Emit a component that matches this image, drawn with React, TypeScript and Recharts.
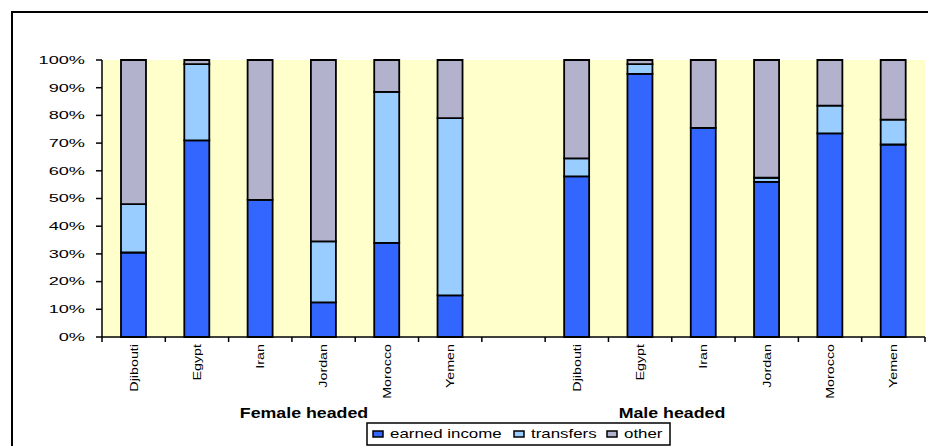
import { BarChart, Bar, XAxis, YAxis, CartesianGrid } from 'recharts';

// categories: six female-headed, a blank gap, six male-headed
const CATEGORIES = ['Djibouti', 'Egypt', 'Iran', 'Jordan', 'Morocco', 'Yemen', '', 'Djibouti', 'Egypt', 'Iran', 'Jordan', 'Morocco', 'Yemen'];
const EARNED = [30.5, 71, 49.5, 12.5, 34, 15, null, 58, 95, 75.5, 56, 73.5, 69.5];
const TRANSFERS = [17.5, 27.5, 0, 22, 54.5, 64, null, 6.5, 3.5, 0, 1.5, 10, 9];
const OTHER = [52, 1.5, 50.5, 65.5, 11.5, 21, null, 35.5, 1.5, 24.5, 42.5, 16.5, 21.5];
const Y_TICKS = [0, 10, 20, 30, 40, 50, 60, 70, 80, 90, 100];
const GROUPS = ['Female headed', 'Male headed'];

const SERIES = [
  { key: 'earned', name: 'earned income', color: '#3366FF' },
  { key: 'transfers', name: 'transfers', color: '#99CCFF' },
  { key: 'other', name: 'other', color: '#B2B2CC' },
];

const W = 928;
const H = 446;
const Y_AXIS_W = 102;
const RIGHT = 3;
const BAND = (W - Y_AXIS_W - RIGHT) / CATEGORIES.length;
const FONT = '"Liberation Sans", Arial, sans-serif';

const data = CATEGORIES.map((c, i) => ({
  key: `${i < 6 ? 'F' : 'M'}-${c || 'gap'}`,
  earned: EARNED[i],
  transfers: TRANSFERS[i],
  other: OTHER[i],
}));

const YTick = ({ x, y, payload }: any) => (
  <g transform={`translate(${x},${y}) scale(1.65,1)`}>
    <text textAnchor='end' dy='0.35em' fontSize={11} fontFamily={FONT} fill='#000'>
      {`${payload.value}%`}
    </text>
  </g>
);

const XTick = ({ x, y, index }: any) => {
  const left = x - BAND / 2;
  const last = index === CATEGORIES.length - 1;
  return (
    <g>
      <line x1={left} x2={left} y1={y - 7} y2={y - 2} stroke='#000' strokeWidth={1.5} />
      {last && <line x1={left + BAND} x2={left + BAND} y1={y - 7} y2={y - 2} stroke='#000' strokeWidth={1.5} />}
      <g transform={`translate(${x},${y}) rotate(-90) scale(1.3,1)`}>
        <text textAnchor='end' dy='0.35em' fontSize={11} fontFamily={FONT} fill='#000'>
          {CATEGORIES[index]}
        </text>
      </g>
    </g>
  );
};

export default function App() {
  const legendX = [373, 514, 607];
  return (
    <div style={{ position: 'absolute', left: 0, top: 0, width: W, height: H, overflow: 'hidden', background: '#fff' }}>
      <div style={{ position: 'absolute', left: 11, top: 11, width: 960, height: 480, border: '2px solid #000' }} />
      <div style={{ position: 'absolute', left: 0, top: 0 }}>
        <BarChart
          width={W}
          height={H}
          data={data}
          margin={{ top: 60, right: RIGHT, bottom: 0, left: 0 }}
          barCategoryGap='30%'
        >
          <CartesianGrid horizontal={false} vertical={false} fill='#FFFFCC' fillOpacity={1} />
          <XAxis
            dataKey='key'
            height={109}
            interval={0}
            tickLine={false}
            tickSize={5}
            tickMargin={2}
            axisLine={{ stroke: '#000', strokeWidth: 1.5 }}
            tick={<XTick />}
          />
          <XAxis
            xAxisId='top'
            orientation='top'
            dataKey='key'
            height={0}
            tick={false}
            tickLine={false}
            axisLine={{ stroke: '#808080', strokeWidth: 1.5 }}
          />
          <YAxis
            width={Y_AXIS_W}
            domain={[0, 100]}
            ticks={Y_TICKS}
            interval={0}
            tickSize={6}
            tickMargin={11}
            axisLine={{ stroke: '#000', strokeWidth: 1.5 }}
            tickLine={{ stroke: '#000', strokeWidth: 1.5 }}
            tick={<YTick />}
          />
          <YAxis
            yAxisId='right'
            orientation='right'
            width={0}
            domain={[0, 100]}
            tick={false}
            tickLine={false}
            axisLine={{ stroke: '#808080', strokeWidth: 1.5 }}
          />
          {SERIES.map((s) => (
            <Bar
              key={s.key}
              dataKey={s.key}
              name={s.name}
              stackId='a'
              fill={s.color}
              stroke='#000'
              strokeWidth={1.8}
              isAnimationActive={false}
            />
          ))}
        </BarChart>
      </div>
      <svg width={W} height={H} style={{ position: 'absolute', left: 0, top: 0, pointerEvents: 'none' }}>
        {GROUPS.map((g, i) => (
          <g key={g} transform={`translate(${i === 0 ? 304 : 672},418) scale(1.27,1)`}>
            <text textAnchor='middle' fontSize={14} fontWeight='bold' fontFamily={FONT} fill='#000'>
              {g}
            </text>
          </g>
        ))}
        <rect x={367} y={423} width={303} height={22} fill='#fff' stroke='#000' strokeWidth={1.5} />
        {SERIES.map((s, i) => (
          <g key={s.key}>
            <rect x={legendX[i]} y={431} width={10} height={6} fill={s.color} stroke='#000' strokeWidth={1.5} />
            <g transform={`translate(${legendX[i] + 17},438) scale(1.3,1)`}>
              <text fontSize={13} fontFamily={FONT} fill='#000'>
                {s.name}
              </text>
            </g>
          </g>
        ))}
      </svg>
    </div>
  );
}
